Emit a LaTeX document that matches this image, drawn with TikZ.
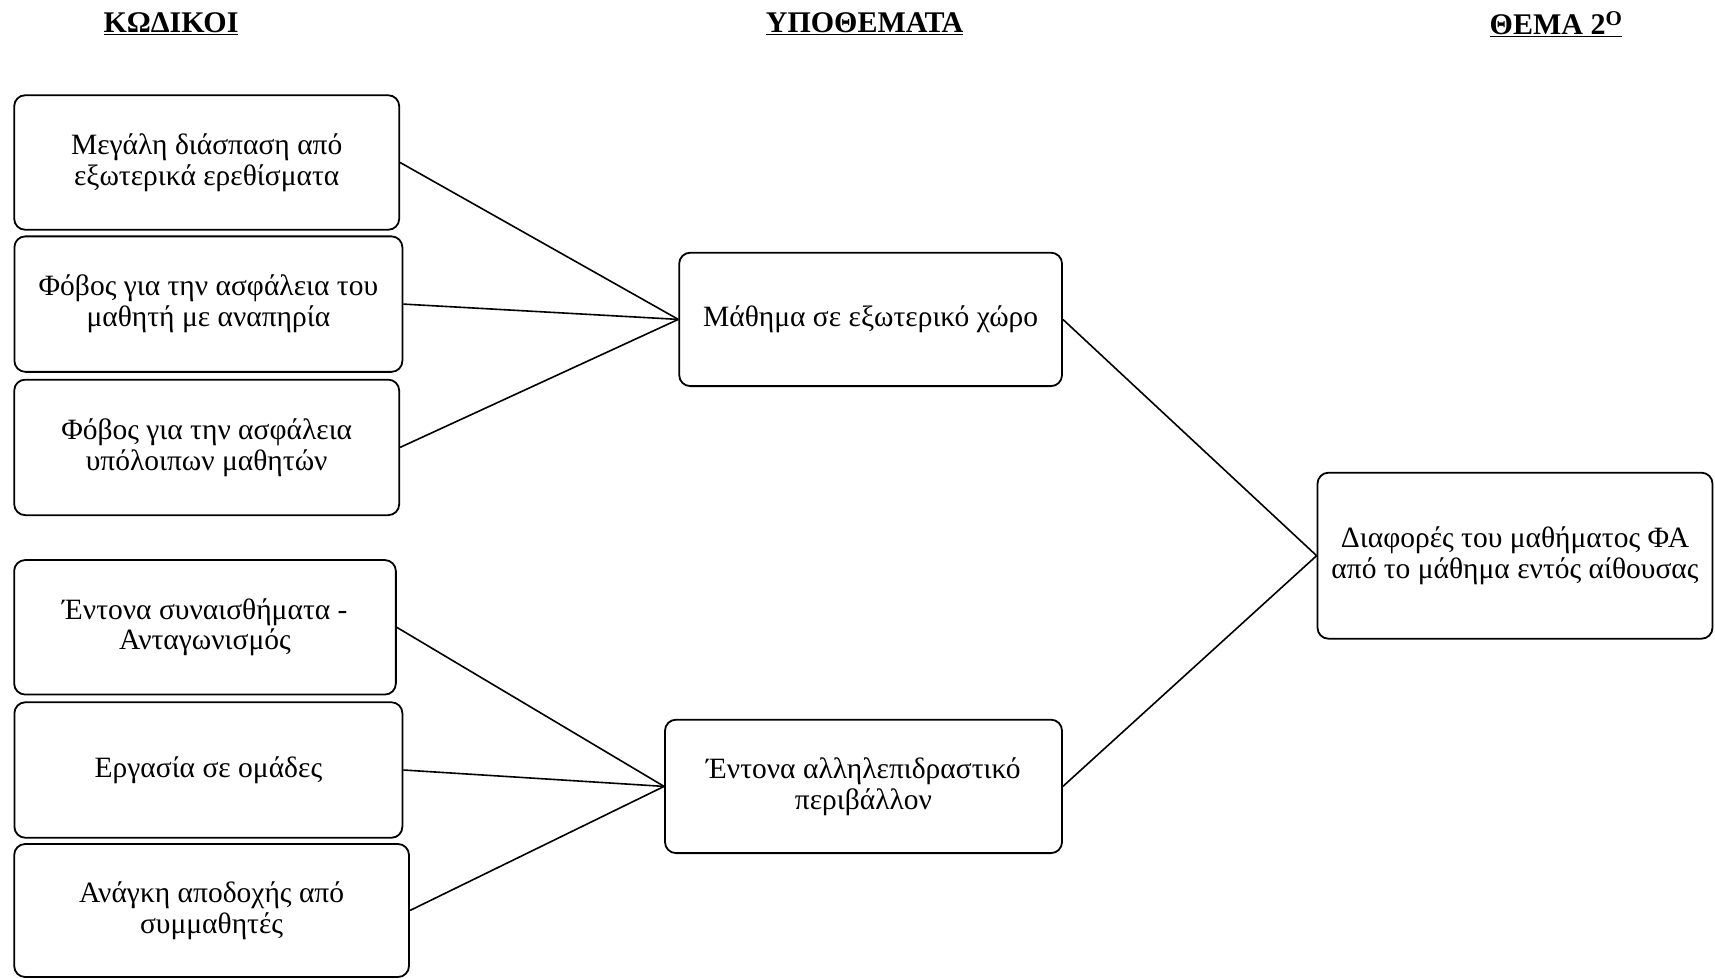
\documentclass[tikz,border=0pt]{standalone}
\usepackage{fontspec}
\setmainfont{Liberation Serif}
\begin{document}
\begin{tikzpicture}[x=1pt,y=-1pt,
  box/.style={draw=black, line width=1.8pt, rounded corners=11pt, align=center,
    inner sep=0pt, font=\fontsize{29.5}{30.8}\selectfont},
  head/.style={font=\fontsize{30}{34}\selectfont\bfseries, inner sep=0pt},
  conn/.style={line width=1.6pt}]
\useasboundingbox (0,0) rectangle (1715,979);
\node[head] (h1) at (171,24) {\underline{ΚΩΔΙΚΟΙ}};
\node[head] (h2) at (864.6,24) {\underline{ΥΠΟΘΕΜΑΤΑ}};
\node[head] (h3) at (1556,24) {\underline{ΘΕΜΑ 2\textsuperscript{Ο}}};

\node[box, minimum width=385pt, minimum height=134.5pt] (b1) at (206.7,162.5) {Μεγάλη διάσπαση από\\εξωτερικά ερεθίσματα};
\node[box, minimum width=388pt, minimum height=135.5pt] (b2) at (208.4,304.1) {Φόβος για την ασφάλεια του\\μαθητή με αναπηρία};
\node[box, minimum width=385pt, minimum height=135.5pt] (b3) at (206.7,447.4) {Φόβος για την ασφάλεια\\υπόλοιπων μαθητών};
\node[box, minimum width=381.7pt, minimum height=134.5pt] (b4) at (205,627.3) {Έντονα συναισθήματα -\\Ανταγωνισμός};
\node[box, minimum width=388pt, minimum height=135.5pt] (b5) at (208.4,770) {Εργασία σε ομάδες};
\node[box, minimum width=394.8pt, minimum height=133pt] (b6) at (211.6,910.5) {Ανάγκη αποδοχής από\\συμμαθητές};

\node[box, minimum width=382.8pt, minimum height=133.4pt] (m1) at (870.6,319.4) {Μάθημα σε εξωτερικό χώρο};
\node[box, minimum width=397pt, minimum height=133.4pt] (m2) at (863.5,786.4) {Έντονα αλληλεπιδραστικό\\περιβάλλον};
\node[box, minimum width=395pt, minimum height=166pt] (r) at (1515,555.7) {Διαφορές του μαθήματος ΦΑ\\από το μάθημα εντός αίθουσας};

\draw[conn] (b1.east) -- (m1.west);
\draw[conn] (b2.east) -- (m1.west);
\draw[conn] (b3.east) -- (m1.west);
\draw[conn] (b4.east) -- (m2.west);
\draw[conn] (b5.east) -- (m2.west);
\draw[conn] (b6.east) -- (m2.west);
\draw[conn] (m1.east) -- (r.west);
\draw[conn] (m2.east) -- (r.west);
\end{tikzpicture}
\end{document}
